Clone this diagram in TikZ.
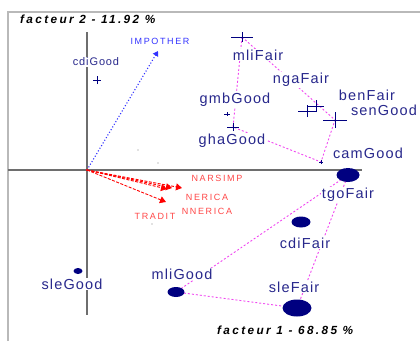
\documentclass[tikz,border=0pt]{standalone}
\usepackage{fontspec}
\setmainfont{Liberation Sans}
\newfontfamily\etiqfont[LetterSpace=8]{Liberation Sans}
\newfontfamily\varfont[LetterSpace=18]{Liberation Sans}
\newfontfamily\titrefont[LetterSpace=20]{Liberation Sans}
\usetikzlibrary{arrows.meta}
\definecolor{marine}{RGB}{0,0,128}
\definecolor{texte}{RGB}{40,40,140}
\definecolor{rose}{RGB}{240,70,240}
\definecolor{rouge}{RGB}{255,0,0}
\definecolor{rougeclair}{RGB}{255,70,70}
\definecolor{bleu}{RGB}{50,50,255}
\definecolor{axegris}{RGB}{110,110,110}
\definecolor{cadregris}{RGB}{185,185,185}
\tikzstyle{cadre} = [draw=cadregris, line width=2pt]
\tikzstyle{axe} = [draw=axegris, line width=1.5pt]
\tikzstyle{modalite} = [font=\etiqfont\fontsize{14.5}{14.5}\selectfont, text=texte,
    fill=white, inner sep=1pt]
\tikzstyle{varlabel} = [font=\varfont\fontsize{9}{9}\selectfont, inner sep=0.5pt]
\tikzstyle{enveloppe} = [draw=rose, line width=0.9pt, dash pattern=on 2pt off 2pt]
\tikzstyle{fleche} = [draw=rouge, line width=0.9pt, dash pattern=on 3pt off 1.5pt,
    -{Triangle[length=6pt,width=7pt]}]
\tikzstyle{croix} = [draw=marine, line width=1pt]
\tikzstyle{pointmod} = [fill=marine]
\tikzstyle{facteur} = [font=\titrefont\bfseries\itshape\fontsize{11.8}{11.8}\selectfont,
    anchor=west, inner sep=0pt]
\newcommand{\croix}[3]{\draw[croix] ([xshift=-#2pt]#1) -- ([xshift=#2pt]#1)
    ([yshift=-#3pt]#1) -- ([yshift=#3pt]#1);}

\begin{document}
\begin{tikzpicture}[x=1pt,y=-1pt]
    \useasboundingbox (0,0) rectangle (420,341);
    \draw[cadre] (8,341) -- (8,12) -- (420,12);
    \coordinate (O) at (87,170);
    \draw[axe] (8,170) -- (362,170);
    \draw[axe] (87,32) -- (87,315);

    \coordinate (cdiGood) at (97,80);
    \coordinate (mliFair) at (242,37);
    \coordinate (gmbGood) at (227,114);
    \coordinate (ghaGood) at (233,127);
    \coordinate (ngaFair) at (307,111);
    \coordinate (benFair) at (316,106);
    \coordinate (senGood) at (335,120);
    \coordinate (camGood) at (321,162);
    \coordinate (tgoFair) at (348,175);
    \coordinate (cdiFair) at (301,222);
    \coordinate (sleFair) at (297,308);
    \coordinate (mliGood) at (176,292);
    \coordinate (sleGood) at (78,271);
    \coordinate (impother) at (158,51);
    \coordinate (narsimp) at (182,188);
    \coordinate (nerica) at (172,188);
    \coordinate (nnerica) at (167,189);
    \coordinate (tradit) at (166,202);

    \draw[enveloppe] (mliFair) -- (ghaGood) -- (camGood) -- (senGood) -- cycle;
    \draw[enveloppe] (tgoFair) -- (mliGood) -- (sleFair) -- cycle;

    \draw[bleu, line width=1.1pt, dotted, -{Triangle[length=5pt,width=6pt]}] (O) -- (impother);
    \draw[fleche] (O) -- (narsimp);
    \draw[fleche] (O) -- (nerica);
    \draw[fleche] (O) -- (nnerica);
    \draw[fleche] (O) -- (tradit);
    \fill[rouge] (O) circle (1.2pt);

    \fill[gray] (138,150) circle (0.7pt);
    \fill[gray] (158,163) circle (0.7pt);
    \fill[gray] (152,224) circle (0.7pt);

    \node[varlabel, text=bleu] (lImpother) at (160,41) {IMPOTHER};
    \node[varlabel, text=rougeclair] (lNarsimp) at (217,178) {NARSIMP};
    \node[varlabel, text=rougeclair] (lNerica) at (207,197) {NERICA};
    \node[varlabel, text=rougeclair] (lNnerica) at (207,211) {NNERICA};
    \node[varlabel, text=rougeclair] (lTradit) at (155,216) {TRADIT};

    \node[modalite, font=\etiqfont\fontsize{11}{11}\selectfont] (lcdiGood) at (96,62) {cdiGood};
    \node[modalite] (lmliFair) at (258,55) {mliFair};
    \node[modalite] (lngaFair) at (301,80) {ngaFair};
    \node[modalite] (lbenFair) at (367,95) {benFair};
    \node[modalite] (lsenGood) at (384,110) {senGood};
    \node[modalite] (lgmbGood) at (235,100) {gmbGood};
    \node[modalite] (lghaGood) at (232,141) {ghaGood};
    \node[modalite] (lcamGood) at (368,153) {camGood};
    \node[modalite] (ltgoFair) at (348,195) {tgoFair};
    \node[modalite] (lcdiFair) at (305,243) {cdiFair};
    \node[modalite] (lsleFair) at (294,287) {sleFair};
    \node[modalite] (lmliGood) at (182,274) {mliGood};
    \node[modalite] (lsleGood) at (72,284) {sleGood};

    \croix{cdiGood}{4}{4}
    \croix{mliFair}{11}{5}
    \croix{gmbGood}{3}{2}
    \croix{ghaGood}{6}{4}
    \croix{ngaFair}{9}{6}
    \croix{benFair}{8}{6}
    \croix{senGood}{12}{8}
    \croix{camGood}{2}{2}

    \fill[pointmod] (tgoFair) ellipse [x radius=11.5pt, y radius=7pt];
    \fill[pointmod] (cdiFair) ellipse [x radius=9.5pt, y radius=5.5pt];
    \fill[pointmod] (sleFair) ellipse [x radius=14.5pt, y radius=8.5pt];
    \fill[pointmod] (mliGood) ellipse [x radius=8.5pt, y radius=5pt];
    \fill[pointmod] (sleGood) ellipse [x radius=4.5pt, y radius=3pt];

    \node[facteur] (fac2) at (20,19) {facteur 2 - 11.92 \%};
    \node[facteur] (fac1) at (217,330) {facteur 1 - 68.85 \%};
\end{tikzpicture}
\end{document}
